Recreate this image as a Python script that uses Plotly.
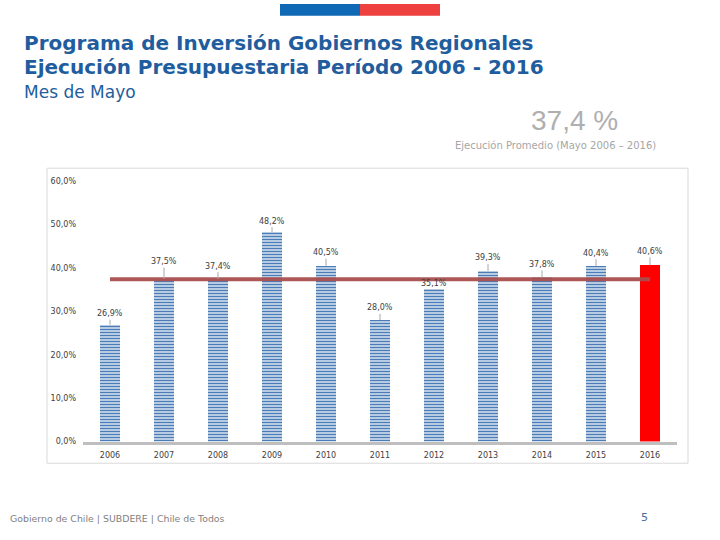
import plotly.graph_objects as go

years = ["2006", "2007", "2008", "2009", "2010", "2011", "2012", "2013", "2014", "2015", "2016"]
values = [26.9, 37.5, 37.4, 48.2, 40.5, 28.0, 35.1, 39.3, 37.8, 40.4, 40.6]
labels = ["26,9%", "37,5%", "37,4%", "48,2%", "40,5%", "28,0%", "35,1%", "39,3%", "37,8%", "40,4%", "40,6%"]
average = 37.4
y_ticks = [0, 10, 20, 30, 40, 50, 60]
y_tick_text = ["0,0%", "10,0%", "20,0%", "30,0%", "40,0%", "50,0%", "60,0%"]

# label pixel offsets (style only)
label_dy = [-11, -17, -13, -11, -13, -12, -6, -13, -13, -13, -14]

W, H = 720, 540
def px(x):
    return x / W
def py(y):
    return 1 - y / H

fig = go.Figure()

n = len(years)
fig.add_trace(go.Bar(
    x=years[:-1], y=values[:-1], width=0.37,
    marker=dict(color="#FFFFFF", line=dict(width=0),
                pattern=dict(shape="-", fgcolor="#4A7CB8", bgcolor="#FFFFFF",
                             fgopacity=1, fillmode="replace",
                             size=3, solidity=0.6)),
    hoverinfo="skip", showlegend=False,
))
fig.add_trace(go.Bar(
    x=years[-1:], y=values[-1:], width=0.37,
    marker=dict(color="#FF0000", line=dict(width=0)),
    hoverinfo="skip", showlegend=False,
))
fig.add_trace(go.Scatter(
    x=years, y=[average] * n, mode="lines",
    line=dict(color="#A94F4F", width=4),
    opacity=0.95, hoverinfo="skip", showlegend=False,
))

for i, (v, lab, dy) in enumerate(zip(values, labels, label_dy)):
    fig.add_annotation(
        x=i, y=v, xref="x", yref="y", text=lab,
        showarrow=True, arrowhead=0, arrowwidth=1, arrowcolor="#A6A6A6",
        ax=0, ay=dy,
        font=dict(family="DejaVu Sans", size=8, color="#404040"),
    )

font_ui = "DejaVu Sans"
fig.update_layout(
    width=W, height=H,
    margin=dict(l=0, r=0, t=0, b=0),
    paper_bgcolor="white", plot_bgcolor="white",
    bargap=0,
    xaxis=dict(
        domain=[px(83), px(677)], range=[-0.5, n - 0.5], type="category",
        showline=True, linecolor="#BFBFBF", linewidth=3,
        showgrid=False, ticks="", zeroline=False,
        tickfont=dict(family=font_ui, size=8, color="#404040"),
        ticklabelstandoff=4,
    ),
    yaxis=dict(
        domain=[py(445), py(180)], range=[0, 60],
        tickvals=y_ticks, ticktext=y_tick_text,
        showgrid=False, zeroline=False, showline=False, ticks="",
        tickfont=dict(family=font_ui, size=8, color="#404040"),
        ticklabelstandoff=6,
    ),
    shapes=[
        dict(type="rect", xref="paper", yref="paper",
             x0=px(280), x1=px(360), y0=py(12), y1=py(0),
             fillcolor="#0F69B4", line=dict(width=0), layer="above"),
        dict(type="rect", xref="paper", yref="paper",
             x0=px(360), x1=px(440), y0=py(12), y1=py(0),
             fillcolor="#EF4040", line=dict(width=0), layer="above"),
        dict(type="rect", xref="paper", yref="paper",
             x0=px(47), x1=px(688), y0=py(467), y1=py(167),
             fillcolor="rgba(0,0,0,0)", line=dict(color="#D9D9D9", width=1),
             layer="below"),
    ],
)

texts = [
    dict(x=22, y=40, text="<b>Programa de Inversión Gobiernos Regionales</b>",
         size=20, color="#1F5D9E", anchor="left", fam="DejaVu Sans"),
    dict(x=22, y=64, text="<b>Ejecución Presupuestaria Período 2006 - 2016</b>",
         size=20, color="#1F5D9E", anchor="left", fam="DejaVu Sans"),
    dict(x=22, y=89, text="Mes de Mayo", size=17, color="#1F5D9E", anchor="left",
         fam="DejaVu Sans"),
    dict(x=574, y=118, text="37,4 %", size=28, color="#AFAFAF", anchor="center",
         fam="Liberation Sans"),
    dict(x=555, y=144, text="Ejecución Promedio (Mayo 2006 – 2016)", size=10,
         color="#A6A6A6", anchor="center", fam="DejaVu Sans"),
    dict(x=8, y=523, text="Gobierno de Chile | SUBDERE | Chile de Todos", size=9.4,
         color="#7F7F7F", anchor="left", fam="DejaVu Sans"),
    dict(x=644, y=522, text="5", size=11, color="#4A6D99", anchor="center",
         fam="DejaVu Sans"),
]
for t in texts:
    fig.add_annotation(
        x=px(t["x"]), y=py(t["y"]), xref="paper", yref="paper",
        text=t["text"], showarrow=False, xanchor=t["anchor"], yanchor="middle",
        font=dict(family=t["fam"], size=t["size"], color=t["color"]),
    )

fig.write_html(
    "out.html",
    config={"displayModeBar": False},
    post_script="document.body.style.margin='0';document.body.style.overflow='hidden';",
)
